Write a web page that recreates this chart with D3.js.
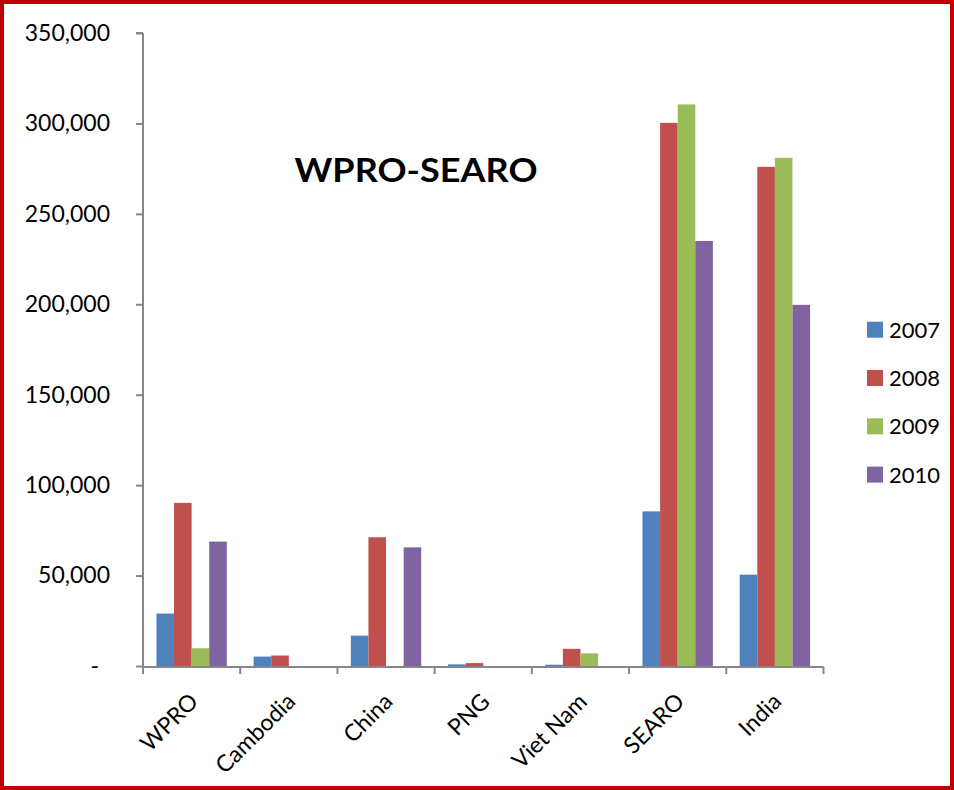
<!DOCTYPE html>
<html>
<head>
<meta charset="utf-8">
<script src="https://cdn.jsdelivr.net/npm/d3@7"></script>
<style>
  html, body { margin: 0; padding: 0; background: #fff; }
  svg { display: block; }
  text { font-family: Lato, "Open Sans", sans-serif; fill: #000; }
</style>
</head>
<body>
<svg id="chart" width="954" height="790"></svg>
<script>
const categories = ["WPRO", "Cambodia", "China", "PNG", "Viet Nam", "SEARO", "India"];
const years = ["2007", "2008", "2009", "2010"];
const v2007 = [29000, 5200, 16800, 900, 700, 85500, 50500];
const v2008 = [90200, 5800, 71200, 1600, 9500, 300300, 276000];
const v2009 = [9800, 0, 0, 0, 7000, 310500, 281000];
const v2010 = [68800, 0, 65600, 0, 0, 235000, 199700];
const seriesValues = [v2007, v2008, v2009, v2010];
const yTicks = [0, 50000, 100000, 150000, 200000, 250000, 300000, 350000];
const colors = ["#4F81BD", "#C0504D", "#9BBB59", "#8064A2"];
const title = "WPRO-SEARO";

const svg = d3.select("#chart");

// border
svg.append("rect")
  .attr("x", 2).attr("y", 2).attr("width", 950).attr("height", 786)
  .attr("fill", "none").attr("stroke", "#C00000").attr("stroke-width", 4);

const x0 = d3.scaleBand().domain(categories).range([143, 823.5]).paddingInner(0).paddingOuter(0);
const bw = x0.bandwidth();
const x1 = d3.scaleBand().domain(years).range([bw * 0.138, bw * 0.862]).padding(0);
const y = d3.scaleLinear().domain([0, 350000]).range([666, 33]);

// bars
const g = svg.append("g");
categories.forEach((c, i) => {
  years.forEach((yr, j) => {
    const v = seriesValues[j][i];
    if (!v) return;
    g.append("rect")
      .attr("x", x0(c) + x1(yr))
      .attr("y", y(v))
      .attr("width", x1.bandwidth())
      .attr("height", y(0) - y(v))
      .attr("fill", colors[j]);
  });
});

// y axis
const yAxis = d3.axisLeft(y).tickValues(yTicks).tickSize(7).tickPadding(26)
  .tickFormat(d => d === 0 ? "-" : d3.format(",")(d));
const yg = svg.append("g").attr("transform", "translate(143,0)").call(yAxis);
yg.select(".domain").attr("stroke", "#868686").attr("stroke-width", 2).attr("d", `M0,${y(350000)}H-7M0,${y(350000)}V${y(0)}`);
yg.selectAll(".tick line").attr("stroke", "#868686").attr("stroke-width", 2);
yg.selectAll(".tick text").style("font-size", "23px").style("font-family", "Lato").attr("fill", "#000");
yg.selectAll(".tick text").filter(d => d === 0).attr("dx", "-11px");

// x axis
const xAxis = d3.axisBottom(x0).tickSize(0).tickPadding(0);
const xg = svg.append("g").attr("transform", `translate(0,${y(0) + 1})`).call(xAxis);
xg.select(".domain").attr("stroke", "#868686").attr("stroke-width", 2).attr("d", `M143,0H823.5`);
xg.selectAll(".tick text")
  .style("font-size", "23px").style("font-family", "Lato").attr("fill", "#000")
  .attr("text-anchor", "end")
  .attr("dy", "0")
  .attr("y", 0)
  .attr("transform", "translate(8,36) rotate(-45)");
// boundary tick marks
const bounds = categories.map(c => x0(c)).concat([x0.range()[1]]);
xg.selectAll("line.bnd").data(bounds).enter().append("line")
  .attr("class", "bnd")
  .attr("x1", d => d).attr("x2", d => d)
  .attr("y1", 0).attr("y2", 7)
  .attr("stroke", "#868686").attr("stroke-width", 2);

// title
svg.append("text")
  .attr("x", 416).attr("y", 182)
  .attr("text-anchor", "middle")
  .attr("textLength", 243).attr("lengthAdjust", "spacingAndGlyphs")
  .style("font-size", "32px").style("font-weight", "bold")
  .text(title);

// legend
const lg = svg.append("g");
years.forEach((yr, j) => {
  const cy = 329.7 + j * 48.3;
  lg.append("rect").attr("x", 867).attr("y", cy - 8).attr("width", 16).attr("height", 16).attr("fill", colors[j]);
  lg.append("text").attr("x", 889).attr("y", cy + 8).style("font-size", "22px").text(yr);
});
</script>
</body>
</html>
